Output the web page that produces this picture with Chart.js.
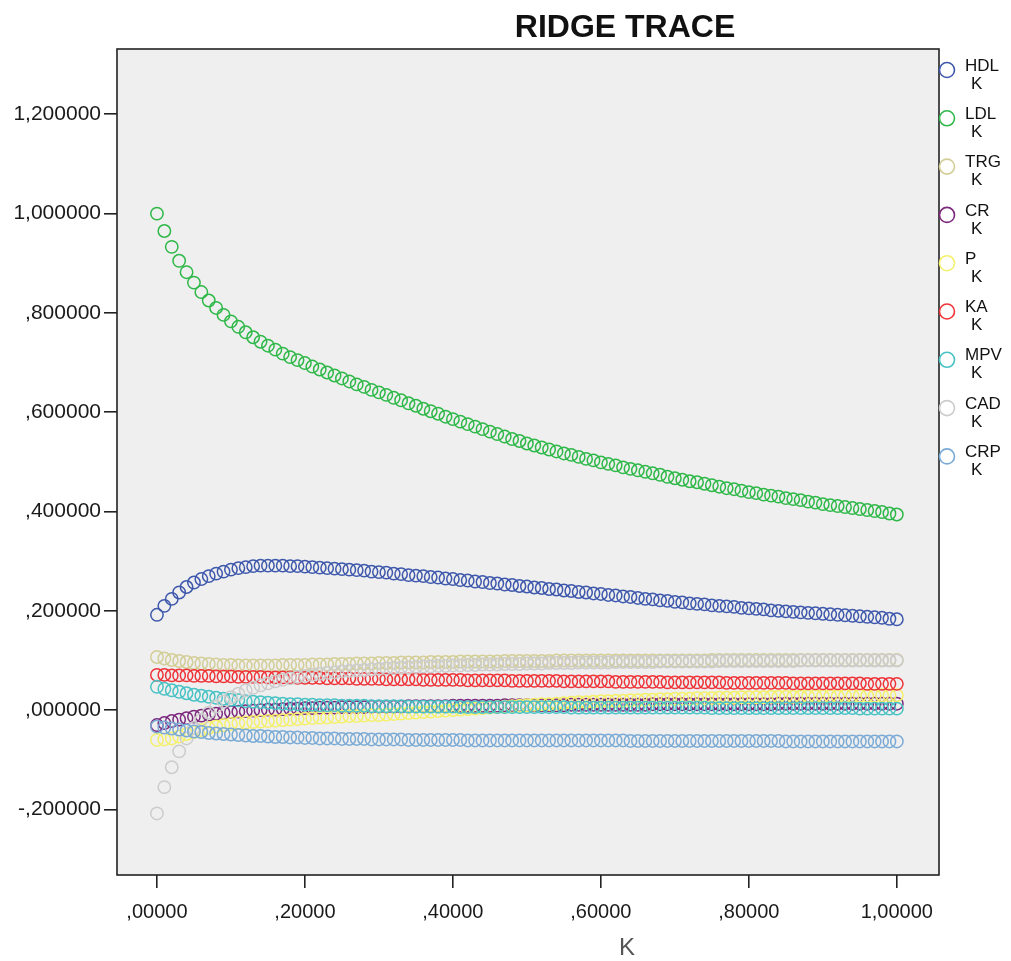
<!DOCTYPE html>
<html>
<head>
<meta charset="utf-8">
<title>Ridge Trace</title>
<script src="https://cdn.jsdelivr.net/npm/chart.js@4.4.1/dist/chart.umd.min.js"></script>
<style>
  body { margin: 0; background: #fff; }
  #wrap { width: 1011px; height: 961px; }
</style>
</head>
<body>
<div id="wrap"><canvas id="ridgeChart" width="1011" height="961"></canvas></div>
<script>
// K values (ridge parameter)
const kValues = [
  0.00, 0.01, 0.02, 0.03, 0.04, 0.05, 0.06, 0.07, 0.08, 0.09, 0.10,
  0.11, 0.12, 0.13, 0.14, 0.15, 0.16, 0.17, 0.18, 0.19, 0.20,
  0.21, 0.22, 0.23, 0.24, 0.25, 0.26, 0.27, 0.28, 0.29, 0.30,
  0.31, 0.32, 0.33, 0.34, 0.35, 0.36, 0.37, 0.38, 0.39, 0.40,
  0.41, 0.42, 0.43, 0.44, 0.45, 0.46, 0.47, 0.48, 0.49, 0.50,
  0.51, 0.52, 0.53, 0.54, 0.55, 0.56, 0.57, 0.58, 0.59, 0.60,
  0.61, 0.62, 0.63, 0.64, 0.65, 0.66, 0.67, 0.68, 0.69, 0.70,
  0.71, 0.72, 0.73, 0.74, 0.75, 0.76, 0.77, 0.78, 0.79, 0.80,
  0.81, 0.82, 0.83, 0.84, 0.85, 0.86, 0.87, 0.88, 0.89, 0.90,
  0.91, 0.92, 0.93, 0.94, 0.95, 0.96, 0.97, 0.98, 0.99, 1.00
];

// standardized coefficients per variable, one value per K
const hdl = [
  .192, .210, .224, .237, .248, .257, .264, .270, .275, .279, .283,
  .286, .288, .290, .291, .291, .291, .291, .290, .290, .289,
  .288, .287, .286, .285, .284, .283, .282, .281, .279, .278,
  .277, .275, .274, .272, .271, .270, .268, .267, .265, .264,
  .262, .261, .259, .258, .256, .255, .253, .252, .250, .249,
  .247, .246, .244, .243, .241, .240, .238, .237, .235, .234,
  .232, .231, .229, .228, .226, .224, .223, .221, .220, .218,
  .217, .215, .214, .213, .211, .210, .209, .208, .206, .205,
  .204, .203, .201, .200, .199, .198, .197, .196, .195, .194,
  .193, .192, .191, .190, .189, .188, .187, .186, .184, .183
];
const ldl = [
  1.000, .965, .933, .905, .882, .861, .842, .825, .810, .796, .783,
  .772, .761, .751, .742, .734, .726, .718, .711, .705, .699,
  .692, .686, .680, .674, .668, .662, .656, .651, .645, .640,
  .635, .629, .624, .618, .613, .607, .602, .597, .591, .586,
  .581, .576, .571, .566, .561, .556, .551, .546, .542, .537,
  .533, .529, .525, .521, .517, .514, .510, .506, .503, .499,
  .496, .493, .489, .486, .483, .480, .477, .474, .470, .467,
  .464, .461, .459, .456, .453, .450, .447, .445, .442, .439,
  .437, .434, .432, .430, .427, .425, .423, .420, .418, .415,
  .413, .411, .409, .407, .405, .403, .401, .399, .396, .394
];
const trg = [
  .107, .104, .101, .099, .097, .095, .094, .093, .092, .091, .091,
  .090, .090, .090, .090, .090, .090, .091, .091, .091, .091,
  .092, .092, .092, .093, .093, .093, .094, .094, .094, .095,
  .095, .095, .096, .096, .096, .096, .097, .097, .097, .097,
  .098, .098, .098, .098, .098, .098, .099, .099, .099, .099,
  .099, .099, .099, .100, .100, .100, .100, .100, .100, .100,
  .100, .100, .100, .100, .100, .100, .100, .100, .100, .100,
  .100, .100, .100, .100, .101, .101, .101, .101, .101, .101,
  .101, .101, .101, .101, .101, .101, .101, .101, .101, .101,
  .101, .101, .101, .101, .101, .101, .101, .101, .101, .101
];
const cr = [
  -.030, -.026, -.022, -.019, -.016, -.013, -.011, -.009, -.007, -.005, -.004,
  -.003, -.002, -.001, .000, .001, .001, .002, .003, .003, .004,
  .004, .005, .005, .005, .006, .006, .006, .006, .007, .007,
  .007, .007, .007, .008, .008, .008, .008, .008, .008, .009,
  .009, .009, .009, .009, .009, .009, .010, .010, .010, .010,
  .010, .010, .010, .010, .010, .011, .011, .011, .011, .011,
  .011, .011, .011, .011, .011, .011, .012, .012, .012, .012,
  .012, .012, .012, .012, .012, .012, .012, .012, .012, .012,
  .012, .012, .012, .013, .013, .013, .013, .013, .013, .013,
  .013, .013, .013, .013, .013, .013, .013, .013, .013, .013
];
const p = [
  -.060, -.059, -.057, -.053, -.048, -.044, -.040, -.036, -.033, -.030, -.028,
  -.026, -.025, -.024, -.023, -.022, -.021, -.020, -.019, -.018, -.017,
  -.016, -.015, -.015, -.014, -.013, -.012, -.012, -.011, -.010, -.010,
  -.009, -.008, -.007, -.006, -.005, -.004, -.003, -.002, -.001, .000,
  .001, .002, .003, .004, .005, .006, .007, .008, .009, .010,
  .011, .012, .012, .013, .014, .015, .016, .016, .017, .018,
  .018, .019, .019, .020, .020, .021, .021, .022, .022, .023,
  .023, .023, .024, .024, .024, .025, .025, .025, .026, .026,
  .026, .026, .027, .027, .027, .027, .027, .028, .028, .028,
  .028, .028, .029, .029, .029, .029, .029, .030, .030, .030
];
const ka = [
  .071, .071, .070, .070, .070, .069, .069, .069, .068, .068, .068,
  .067, .067, .067, .067, .066, .066, .066, .066, .065, .065,
  .065, .065, .064, .064, .064, .064, .063, .063, .063, .063,
  .062, .062, .062, .062, .062, .061, .061, .061, .061, .061,
  .061, .060, .060, .060, .060, .060, .060, .059, .059, .059,
  .059, .059, .059, .059, .058, .058, .058, .058, .058, .058,
  .058, .057, .057, .057, .057, .057, .057, .057, .056, .056,
  .056, .056, .056, .056, .056, .056, .055, .055, .055, .055,
  .055, .055, .055, .055, .055, .054, .054, .054, .054, .054,
  .054, .054, .054, .054, .054, .053, .053, .053, .053, .053
];
const mpv = [
  .047, .043, .040, .037, .034, .031, .029, .027, .025, .023, .021,
  .020, .018, .017, .016, .015, .014, .013, .012, .012, .011,
  .011, .010, .010, .010, .009, .009, .009, .009, .008, .008,
  .008, .008, .008, .007, .007, .007, .007, .007, .007, .007,
  .006, .006, .006, .006, .006, .006, .006, .006, .006, .006,
  .006, .006, .006, .006, .006, .005, .005, .005, .005, .005,
  .005, .005, .005, .005, .005, .005, .005, .005, .005, .005,
  .005, .005, .005, .005, .004, .004, .004, .004, .004, .004,
  .004, .004, .004, .004, .004, .004, .004, .004, .004, .004,
  .004, .004, .004, .004, .003, .003, .003, .003, .003, .003
];
const cad = [
  -.208, -.155, -.115, -.083, -.057, -.036, -.019, -.005, .007, .017, .026,
  .033, .040, .045, .050, .054, .058, .061, .064, .067, .069,
  .071, .073, .075, .076, .078, .079, .080, .081, .082, .083,
  .084, .085, .086, .086, .087, .088, .088, .089, .089, .090,
  .090, .091, .091, .092, .092, .092, .093, .093, .093, .094,
  .094, .094, .095, .095, .095, .095, .096, .096, .096, .096,
  .096, .097, .097, .097, .097, .097, .097, .098, .098, .098,
  .098, .098, .098, .098, .098, .099, .099, .099, .099, .099,
  .099, .099, .099, .099, .099, .099, .100, .100, .100, .100,
  .100, .100, .100, .100, .100, .100, .100, .100, .100, .100
];
const crp = [
  -.033, -.035, -.037, -.039, -.041, -.043, -.044, -.046, -.047, -.048, -.049,
  -.050, -.051, -.052, -.052, -.053, -.054, -.054, -.055, -.055, -.056,
  -.056, -.057, -.057, -.057, -.058, -.058, -.058, -.058, -.059, -.059,
  -.059, -.059, -.059, -.060, -.060, -.060, -.060, -.060, -.060, -.060,
  -.060, -.061, -.061, -.061, -.061, -.061, -.061, -.061, -.061, -.061,
  -.061, -.061, -.061, -.061, -.061, -.061, -.061, -.061, -.061, -.061,
  -.061, -.061, -.061, -.062, -.062, -.062, -.062, -.062, -.062, -.062,
  -.062, -.062, -.062, -.062, -.062, -.062, -.062, -.062, -.062, -.062,
  -.062, -.062, -.062, -.062, -.063, -.063, -.063, -.063, -.063, -.063,
  -.063, -.063, -.063, -.063, -.063, -.063, -.063, -.063, -.063, -.063
];

const seriesNames = ['HDL', 'LDL', 'TRG', 'CR', 'P', 'KA', 'MPV', 'CAD', 'CRP'];
const seriesValues = [hdl, ldl, trg, cr, p, ka, mpv, cad, crp];
const seriesColors = ['#3e58ac', '#2eb848', '#d3ce97', '#7c287d', '#f4f06a', '#ef3338', '#48c2c5', '#cccccc', '#7aaad5'];
const yTicks = [-0.2, 0, 0.2, 0.4, 0.6, 0.8, 1.0, 1.2];
const xTicks = [0, 0.2, 0.4, 0.6, 0.8, 1.0];

const FONT = '"Liberation Sans", Arial, sans-serif';

// SPSS style number: comma decimal, no leading zero
function spssNum(v, digits) {
    let s = Math.abs(v) < 1e-9 ? (0).toFixed(digits) : v.toFixed(digits);
    s = s.replace('.', ',');
    s = s.replace(/^(-?)0,/, '$1,');
    return s;
}

// Plot background, frame, title, axis title and legend
const decorPlugin = {
    id: 'decor',
    beforeDatasetsDraw(chart) {
        const { ctx, chartArea: a } = chart;
        ctx.save();
        ctx.fillStyle = '#efefef';
        ctx.fillRect(a.left, a.top, a.right - a.left, a.bottom - a.top);
        ctx.restore();
    },
    afterDraw(chart) {
        const { ctx, chartArea: a } = chart;
        ctx.save();
        ctx.strokeStyle = '#222';
        ctx.lineWidth = 1.6;
        ctx.strokeRect(a.left, a.top, a.right - a.left, a.bottom - a.top);

        // title
        ctx.fillStyle = '#111';
        ctx.font = 'bold 32px ' + FONT;
        ctx.textAlign = 'center';
        ctx.textBaseline = 'alphabetic';
        ctx.fillText('RIDGE TRACE', 625, 37);

        // x axis title
        ctx.fillStyle = '#555';
        ctx.font = '24px ' + FONT;
        ctx.fillText('K', 627, 955);

        // legend
        ctx.textAlign = 'left';
        ctx.textBaseline = 'middle';
        ctx.font = '17px ' + FONT;
        chart.data.datasets.forEach((ds, i) => {
            const cy = 70 + i * 48.3;
            ctx.beginPath();
            ctx.arc(947, cy, 7.5, 0, Math.PI * 2);
            ctx.strokeStyle = ds.borderColor;
            ctx.lineWidth = 1.6;
            ctx.stroke();
            ctx.fillStyle = '#111';
            ctx.fillText(ds.label, 965, cy - 4);
            ctx.fillText('K', 971, cy + 14);
        });
        ctx.restore();
    }
};

const ctxRidge = document.getElementById('ridgeChart').getContext('2d');
const ridgeChart = new Chart(ctxRidge, {
    type: 'scatter',
    data: {
        datasets: seriesNames.map((name, i) => ({
            label: name,
            data: kValues.map((k, j) => ({ x: k, y: seriesValues[i][j] })),
            borderColor: seriesColors[i],
            backgroundColor: 'rgba(0,0,0,0)',
            pointRadius: 6.2,
            pointBorderWidth: 1.5,
            pointStyle: 'circle',
            showLine: false,
            order: seriesNames.length - i
        }))
    },
    options: {
        responsive: false,
        animation: false,
        layout: { padding: { top: 49, right: 72, left: 0, bottom: 0 } },
        plugins: {
            legend: { display: false },
            title: { display: false },
            tooltip: { enabled: false }
        },
        scales: {
            x: {
                type: 'linear',
                min: -0.054,
                max: 1.057,
                afterFit(scale) { scale.height = 86; },
                afterBuildTicks(scale) { scale.ticks = xTicks.map(v => ({ value: v })); },
                border: { display: false },
                grid: { drawOnChartArea: false, drawTicks: true, tickLength: 13, color: '#222', lineWidth: 1.6 },
                ticks: {
                    padding: 12,
                    color: '#1a1a1a',
                    font: { family: FONT, size: 20 },
                    maxRotation: 0,
                    callback: v => spssNum(v, 5)
                }
            },
            y: {
                type: 'linear',
                min: -0.332,
                max: 1.3315,
                afterFit(scale) { scale.width = 117; },
                afterBuildTicks(scale) { scale.ticks = yTicks.map(v => ({ value: v })); },
                border: { display: false },
                grid: { drawOnChartArea: false, drawTicks: true, tickLength: 13, color: '#222', lineWidth: 1.6 },
                ticks: {
                    padding: 3,
                    color: '#1a1a1a',
                    font: { family: FONT, size: 21 },
                    callback: v => spssNum(v, 6)
                }
            }
        }
    },
    plugins: [decorPlugin]
});
</script>
</body>
</html>
